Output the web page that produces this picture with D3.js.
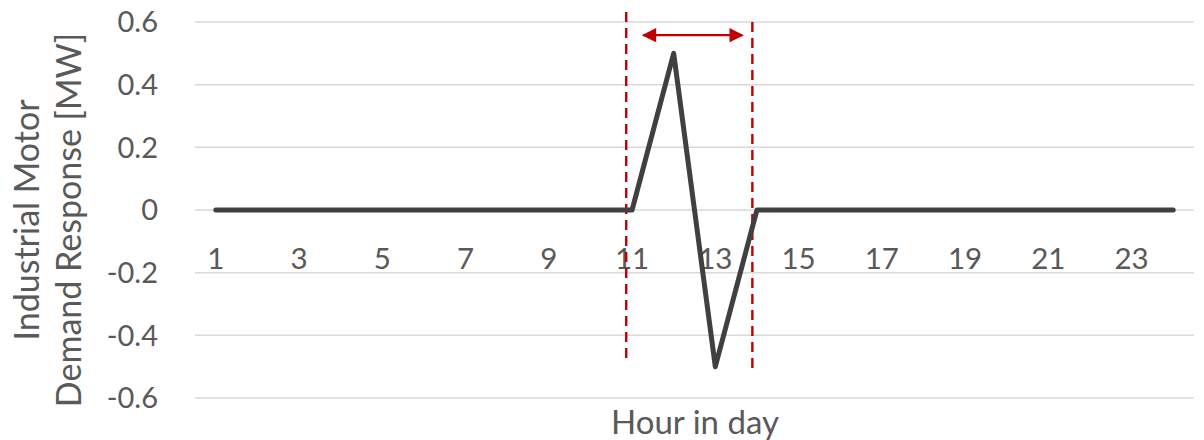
<!DOCTYPE html>
<html><head><meta charset="utf-8">
<script src="https://cdn.jsdelivr.net/npm/d3@7"></script>
<style>html,body{margin:0;padding:0;background:#fff;}svg{display:block;font-family:Lato,"Open Sans",sans-serif;}</style>
</head><body><svg id="c" width="1204" height="440"></svg>
<script>
const hours = d3.range(1, 25);
const response = [0,0,0,0,0,0,0,0,0,0,0,0.5,-0.5,0,0,0,0,0,0,0,0,0,0,0];
const xTickLabels = [1,3,5,7,9,11,13,15,17,19,21,23];
const yTicks = [0.6,0.4,0.2,0,-0.2,-0.4,-0.6];
const yTickLabels = ["0.6","0.4","0.2","0","-0.2","-0.4","-0.6"];
// annotation: dashed window markers [hour, yTop, yBottom]; arrow [hourStart, hourEnd, y]
const windowLines = [[10.86, 0.632, -0.485],[13.89, 0.6, -0.517]];
const arrowSpan = [11.27, 13.65, 0.558];

const svg = d3.select("#c");
const pL = 195, pR = 1194, pT = 22, pB = 398;
const x = d3.scaleBand().domain(hours).range([pL, pR]);
const xc = h => x(1) + x.bandwidth()/2 + (h-1)*x.step();
const y = d3.scaleLinear().domain([-0.6, 0.6]).range([pB, pT]);

// gridlines
svg.append("g").selectAll("line").data(yTicks).join("line")
  .attr("x1", pL).attr("x2", pR).attr("y1", d=>y(d)).attr("y2", d=>y(d))
  .attr("stroke", "#d9d9d9").attr("stroke-width", 1.5);

// y tick labels
svg.append("g").selectAll("text").data(yTicks).join("text")
  .attr("x", 158).attr("y", d=>y(d)).attr("dy", "0.36em").attr("text-anchor", "end")
  .attr("fill", "#595959").attr("font-size", 29).text((d,i)=>yTickLabels[i]);

// x tick labels
svg.append("g").selectAll("text").data(xTickLabels).join("text")
  .attr("x", d=>xc(d)).attr("y", 269).attr("text-anchor", "middle")
  .attr("fill", "#595959").attr("font-size", 29.5).text(d=>d);

// dashed window lines
svg.append("g").selectAll("line").data(windowLines).join("line")
  .attr("x1", d=>xc(d[0])).attr("x2", d=>xc(d[0])).attr("y1", d=>y(d[1])).attr("y2", d=>y(d[2]))
  .attr("stroke", "#c00000").attr("stroke-width", 2.4).attr("stroke-dasharray", "10,6");

// arrow
const defs = svg.append("defs");
defs.append("marker").attr("id","ah").attr("viewBox","0 0 10 10").attr("refX",9).attr("refY",5)
  .attr("markerWidth",7.5).attr("markerHeight",6.5).attr("markerUnits","strokeWidth").attr("orient","auto-start-reverse")
  .append("path").attr("d","M0,0 L10,5 L0,10 z").attr("fill","#c00000");
svg.append("line")
  .attr("x1", xc(arrowSpan[0])).attr("x2", xc(arrowSpan[1])).attr("y1", y(arrowSpan[2])).attr("y2", y(arrowSpan[2]))
  .attr("stroke", "#c00000").attr("stroke-width", 2.2)
  .attr("marker-start","url(#ah)").attr("marker-end","url(#ah)");

// data line
const line = d3.line().x((d,i)=>xc(hours[i])).y(d=>y(d));
svg.append("path").datum(response).attr("d", line)
  .attr("fill","none").attr("stroke","#404040").attr("stroke-width",5)
  .attr("stroke-linecap","round").attr("stroke-linejoin","round");

// axis titles
svg.append("text").attr("transform","translate(39,220) rotate(-90)").attr("text-anchor","middle")
  .attr("fill","#595959").attr("font-size",34).text("Industrial Motor");
svg.append("text").attr("transform","translate(81,220) rotate(-90)").attr("text-anchor","middle")
  .attr("fill","#595959").attr("font-size",34).text("Demand Response [MW]");
svg.append("text").attr("x",695).attr("y",434).attr("text-anchor","middle")
  .attr("fill","#595959").attr("font-size",33).text("Hour in day");
</script></body></html>
